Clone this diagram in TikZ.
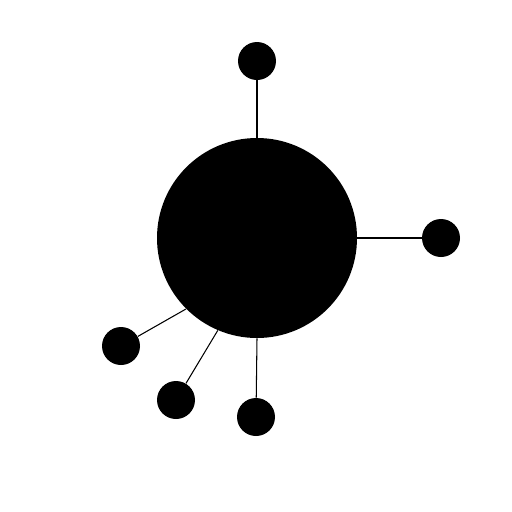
\documentclass[tikz,border=0pt]{standalone}
\usetikzlibrary{positioning}

\begin{document}
\begin{tikzpicture}[
    hub/.style ={circle, fill=black, inner sep=0pt, minimum size=4cm},
    leaf/.style={circle, fill=black, inner sep=0pt, minimum size=0.76cm},
    edge/.style={line width=0.6pt, black}
]
\useasboundingbox (0,0) rectangle (10.24,-10.24);

% center vertex
\node[hub] (c) at (5.14,-4.76) {};

% outer vertices
\node[leaf] (l1) at (5.14,-1.22) {};
\node[leaf] (l2) at (8.82,-4.76) {};
\node[leaf] (l3) at (2.42,-6.92) {};
\node[leaf] (l4) at (3.52,-8.00) {};
\node[leaf] (l5) at (5.12,-8.34) {};

% edges from c
\foreach \a/\u in {90/l1,0/l2,225/l3,247.5/l4,270/l5} {
    \draw[edge] (c.\a) -- (\u);
}

\end{tikzpicture}
\end{document}
